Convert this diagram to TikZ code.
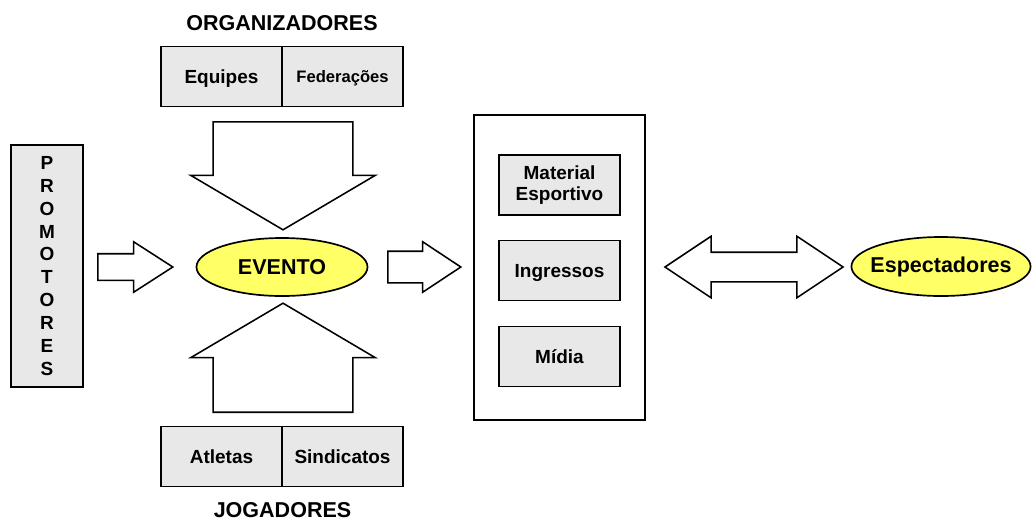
\documentclass[tikz,border=0pt]{standalone}
\usepackage{fontspec}
\setmainfont{Liberation Sans}
\usetikzlibrary{shapes.geometric,shapes.arrows}
\definecolor{boxgray}{RGB}{232,232,232}
\definecolor{ovalyellow}{RGB}{255,255,102}
\tikzset{
  box/.style={draw,line width=1.3pt,fill=boxgray,minimum width=3.025cm,minimum height=1.5cm,
    inner sep=0,outer sep=0,align=center,font=\fontsize{13.5}{15}\selectfont\bfseries,text depth=0pt},
  oval/.style={draw,line width=1.2pt,fill=ovalyellow,ellipse,inner sep=0,
    font=\fontsize{15.3}{18}\selectfont\bfseries},
  title/.style={inner sep=0,font=\fontsize{15.3}{18}\selectfont\bfseries},
  fatarrow/.style={draw,line width=1.1pt,fill=white,single arrow,inner xsep=0,minimum width=0pt,anchor=tail}
}
\begin{document}
\begin{tikzpicture}[x=0.025cm,y=-0.025cm]
\useasboundingbox (0,0) rectangle (1032,521);

% organizadores
\node[title] (org) at (282,23.5) {ORGANIZADORES};
\node[box] (equipes) at (221.5,76.5) {Equipes};
\node[box,anchor=west,font=\fontsize{11.8}{14}\selectfont\bfseries] (federacoes) at (equipes.east) {Federações};

% jogadores
\node[box] (atletas) at (221.5,456.5) {Atletas};
\node[box,anchor=west] (sindicatos) at (atletas.east) {Sindicatos};
\node[title] (jog) at (282.5,510.5) {JOGADORES};

% promotores
\node[box,minimum width=1.8cm,minimum height=6.05cm,font=\fontsize{13.5}{16.3}\selectfont\bfseries,text depth=] (prom) at (47,266)
  {P\\R\\O\\M\\O\\T\\O\\R\\E\\S};

% evento
\node[oval,minimum width=4.275cm,minimum height=1.45cm] (evento) at (282,267) {EVENTO};

% produtos
\node[draw,line width=1.3pt,minimum width=4.275cm,minimum height=7.625cm] (produtos) at (559.5,267.5) {};
\node[box,text depth=] (material) at (559.5,185) {Material\\Esportivo};
\node[box] (ingressos) at (559.5,270.5) {Ingressos};
\node[box] (midia) at (559.5,356.5) {Mídia};

% espectadores
\node[oval,inner xsep=-0.18cm,minimum width=4.45cm,minimum height=1.475cm] (espect) at (941,266.5) {Espectadores};

% setas
\node[fatarrow,inner ysep=0.3125cm,single arrow head extend=0.3cm,single arrow tip angle=65.6,
  minimum height=1.875cm] (arrprom) at (97,267) {};
\node[fatarrow,inner ysep=1.725cm,single arrow head extend=0.5625cm,single arrow tip angle=118.9,
  minimum height=2.7cm,rotate=-90] (arrtop) at (283,121) {};
\node[fatarrow,inner ysep=1.725cm,single arrow head extend=0.5625cm,single arrow tip angle=118.9,
  minimum height=2.725cm,rotate=90] (arrbottom) at (283,413) {};
\node[fatarrow,inner ysep=0.375cm,single arrow head extend=0.2375cm,single arrow tip angle=67,
  minimum height=1.825cm] (arrbox) at (387,267) {};
\node[draw,line width=1.1pt,fill=white,double arrow,inner xsep=0,minimum width=0pt,inner ysep=0.35cm,
  double arrow head extend=0.4cm,double arrow tip angle=67.4,minimum height=4.45cm] (arrspect) at (754,267) {};

\end{tikzpicture}
\end{document}
